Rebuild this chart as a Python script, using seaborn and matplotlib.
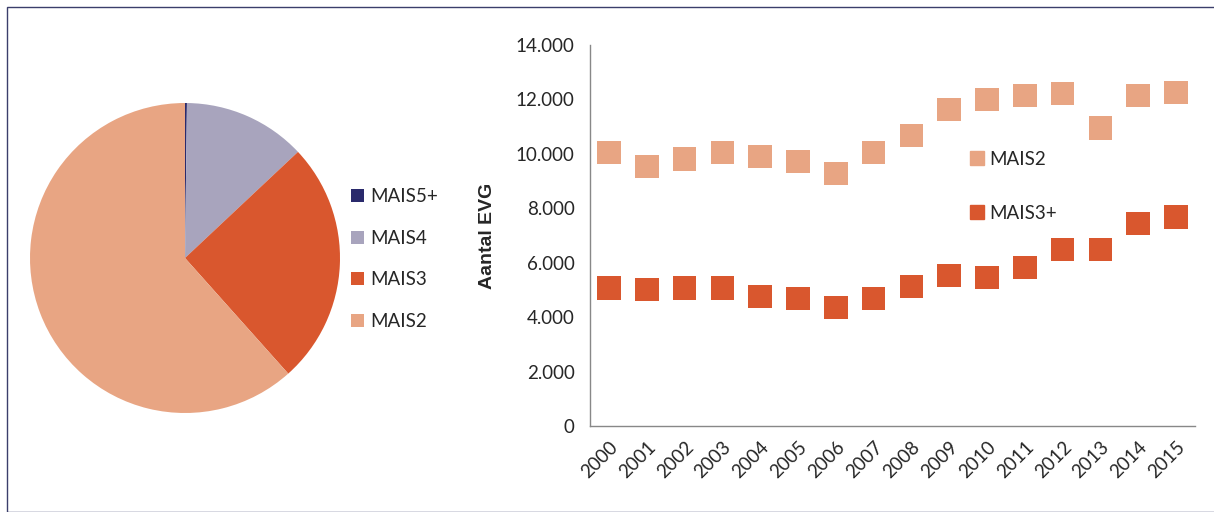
import numpy as np
import pandas as pd
import seaborn as sns
import matplotlib.pyplot as plt
from matplotlib.patches import Rectangle
from matplotlib.ticker import FuncFormatter

# Verdeling naar ernst (taart)
pie_labels = ['MAIS5+', 'MAIS4', 'MAIS3', 'MAIS2']
pie_values = [0.2, 12.8, 25.4, 61.6]
pie_colors = ['#2A2A6C', '#A8A4BD', '#D9572E', '#E8A583']

# Aantal EVG per jaar
jaren = [str(j) for j in range(2000, 2016)]
mais2 = [10050, 9540, 9800, 10050, 9910, 9720, 9280, 10050,
         10680, 11630, 12000, 12150, 12220, 10940, 12150, 12260]
mais3plus = [5060, 5020, 5060, 5060, 4760, 4690, 4360, 4690,
             5130, 5530, 5460, 5830, 6490, 6490, 7440, 7670]

sns.set_style('white')
plt.rcParams['font.family'] = ['Lato', 'DejaVu Sans']

W, H = 1214, 512
fig = plt.figure(figsize=(W / 100, H / 100), dpi=100)

# kader rond de figuur
fig.patches.append(Rectangle((7 / W, 0), 1.0, 1 - 7 / H, transform=fig.transFigure,
                             fill=False, edgecolor='#3B3F6B', linewidth=1.0))

# --- taart ---
ax1 = fig.add_axes([(185 - 155) / W, 1 - (258 + 155) / H, 310 / W, 310 / H])
wedges, _ = ax1.pie(pie_values, colors=pie_colors, startangle=90, counterclock=False,
                    radius=1.0, wedgeprops={'linewidth': 0})
ax1.set_xlim(-1, 1)
ax1.set_ylim(-1, 1)
ax1.set_aspect('equal')
ax1.axis('off')
fig.legend(wedges, pie_labels, loc='center left', bbox_to_anchor=(351 / W, 1 - 259 / H),
           frameon=False, fontsize=13.5, handlelength=0.7, handleheight=0.7,
           handletextpad=0.35, labelspacing=1.32, borderpad=0, borderaxespad=0)

# --- strooidiagram ---
df = pd.DataFrame({
    'jaar': jaren * 2,
    'aantal': mais2 + mais3plus,
    'reeks': ['MAIS2'] * len(jaren) + ['MAIS3+'] * len(jaren),
})
ax2 = fig.add_axes([590 / W, 1 - 426 / H, 605 / W, 381 / H])
sns.stripplot(data=df, x='jaar', y='aantal', hue='reeks', jitter=False, dodge=False,
              marker='s', size=17, palette={'MAIS2': '#E8A583', 'MAIS3+': '#D9572E'},
              linewidth=0, ax=ax2, legend=False, order=jaren)

ax2.set_xlim(-0.5, len(jaren) - 0.5)
ax2.set_ylim(0, 14000)
ax2.set_yticks(np.arange(0, 14001, 2000))
ax2.yaxis.set_major_formatter(FuncFormatter(lambda v, p: f'{int(v):,}'.replace(',', '.')))
ax2.set_xticks(range(len(jaren)))
ax2.set_xticklabels(jaren, rotation=45, ha='right', rotation_mode='anchor', fontsize=13.5)
ax2.set_xticks(np.arange(-0.5, len(jaren)), minor=True)
ax2.tick_params(axis='x', which='major', length=0, pad=9)
ax2.tick_params(axis='x', which='minor', length=5, color='#888888', width=1)
ax2.tick_params(axis='y', length=5, color='#888888', width=1, labelsize=13.5, pad=6)
ax2.tick_params(axis='both', direction='out')
ax2.set_xlabel('')
ax2.set_ylabel('Aantal EVG', fontsize=14, fontweight='bold',
               family=['Liberation Sans', 'DejaVu Sans'], labelpad=14)
for s in ['top', 'right']:
    ax2.spines[s].set_visible(False)
for s in ['left', 'bottom']:
    ax2.spines[s].set_color('#888888')
    ax2.spines[s].set_linewidth(1.0)

h1 = plt.Line2D([], [], marker='s', linestyle='', color='#E8A583', markersize=10)
h2 = plt.Line2D([], [], marker='s', linestyle='', color='#D9572E', markersize=10)
ax2.legend([h1, h2], ['MAIS2', 'MAIS3+'], loc='upper left',
           bbox_to_anchor=((970 - 590) / 605, (426 - 151) / 381), frameon=False,
           fontsize=13.5, handlelength=0.75, handletextpad=0.3, labelspacing=1.95,
           borderpad=0, borderaxespad=0)

fig.savefig('out.png', dpi=100)
